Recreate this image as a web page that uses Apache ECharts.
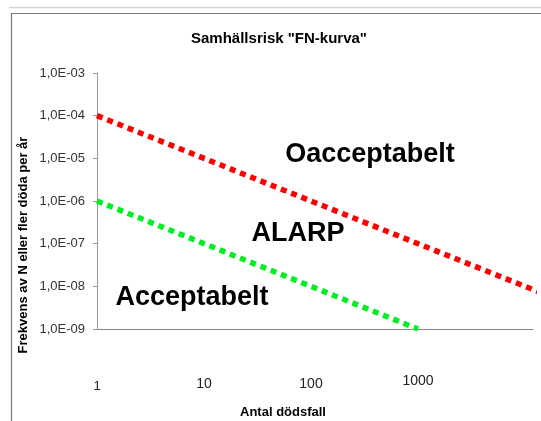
<!DOCTYPE html>
<html>
<head>
<meta charset="utf-8">
<script src="https://cdn.jsdelivr.net/npm/echarts@6/dist/echarts.min.js"></script>
<style>
html,body{margin:0;padding:0;background:#fff;}
#chart{width:541px;height:421px;}
</style>
</head>
<body>
<div id="chart"></div>
<script>
// ---- data ----
var titleText = 'Samhällsrisk "FN-kurva"';
var xAxisTitle = 'Antal dödsfall';
var yAxisTitle = 'Frekvens av N eller fler döda per år';
var xTickValues = [1, 10, 100, 1000];
var xTickLabels = ['1', '10', '100', '1000'];
var yTickValues = [1e-9, 1e-8, 1e-7, 1e-6, 1e-5, 1e-4, 1e-3];
var yTickLabels = ['1,0E-09', '1,0E-08', '1,0E-07', '1,0E-06', '1,0E-05', '1,0E-04', '1,0E-03'];
// upper limit (red) and lower limit (green) criteria lines
var upperN = [1, 10000, 20000];
var upperF = [1e-4, 1e-8, 5e-9];
var lowerN = [1, 1000];
var lowerF = [1e-6, 1e-9];
// region labels
var regionNames = ['Oacceptabelt', 'ALARP', 'Acceptabelt'];
var regionN = [356, 75.6, 7.73];
var regionF = [1.2e-5, 1.69e-7, 5.6e-9];

function pairs(xs, ys) { return xs.map(function (x, i) { return [x, ys[i]]; }); }

var chart = echarts.init(document.getElementById('chart'), null, {renderer: 'canvas'});
var FONT = '"Liberation Sans", Arial, sans-serif';

var option = {
  backgroundColor: '#ffffff',
  animation: false,
  title: {
    text: titleText,
    left: 274, top: 26, textAlign: 'center',
    textStyle: {fontFamily: FONT, fontSize: 15, fontWeight: 'bold', color: '#000'}
  },
  grid: {left: 97, top: 73, right: 8, bottom: 92, containLabel: false},
  xAxis: {
    type: 'log', logBase: 10, min: 1, max: 11885,
    axisLine: {show: true, lineStyle: {color: '#888', width: 1}},
    axisTick: {show: false},
    minorTick: {show: false},
    splitLine: {show: false},
    axisLabel: {
      margin: 45,
      showMaxLabel: true,
      fontFamily: FONT, fontSize: 14, color: '#222',
      verticalAlign: 'top',
      formatter: function (v) {
        for (var i = 0; i < xTickValues.length; i++) {
          if (Math.abs(v - xTickValues[i]) < 1e-6 * xTickValues[i]) return '{l' + i + '|' + xTickLabels[i] + '}';
        }
        return '';
      },
      rich: {
        l0: {padding: [6, 0, 0, 0], fontSize: 13, fontFamily: FONT, color: '#222'},
        l1: {padding: [3, 0, 0, 0], fontSize: 14, fontFamily: FONT, color: '#222'},
        l2: {padding: [3, 0, 0, 0], fontSize: 14, fontFamily: FONT, color: '#222'},
        l3: {padding: [0, 0, 0, 0], fontSize: 14, fontFamily: FONT, color: '#222'}
      }
    }
  },
  yAxis: {
    type: 'log', logBase: 10, min: 1e-9, max: 1e-3,
    axisLine: {show: true, lineStyle: {color: '#999', width: 1}},
    axisTick: {show: true, inside: false, length: 4, lineStyle: {color: '#999'}},
    minorTick: {show: false},
    splitLine: {show: false},
    axisLabel: {
      margin: 12,
      fontFamily: FONT, fontSize: 13, color: '#333',
      formatter: function (v) {
        for (var i = 0; i < yTickValues.length; i++) {
          if (Math.abs(Math.log10(v) - Math.log10(yTickValues[i])) < 1e-6) return yTickLabels[i];
        }
        return '';
      }
    }
  },
  series: [
    {
      type: 'line', name: 'upper', data: pairs(upperN, upperF),
      showSymbol: false, clip: false, silent: true,
      lineStyle: {color: '#ff0000', width: 5.5, type: [6, 5], cap: 'butt'}
    },
    {
      type: 'line', name: 'lower', data: pairs(lowerN, lowerF),
      showSymbol: false, clip: false, silent: true,
      lineStyle: {color: '#00ee22', width: 5.5, type: [6, 5], cap: 'butt'}
    },
    {
      type: 'scatter', name: 'labels', symbolSize: 0, silent: true,
      itemStyle: {opacity: 1},
      data: regionNames.map(function (n, i) { return {name: n, value: [regionN[i], regionF[i]]}; }),
      label: {
        show: true, position: 'inside', opacity: 1,
        formatter: function (p) { return p.name; },
        fontFamily: FONT, fontSize: 27, fontWeight: 'bold', color: '#000'
      }
    }
  ],
  graphic: [
    {type: 'line', shape: {x1: 9, y1: 7.5, x2: 541, y2: 7.5}, style: {stroke: '#d4d4d4', lineWidth: 1.5}, silent: true},
    {type: 'polyline', shape: {points: [[11.5, 421], [11.5, 13.5], [541, 13.5]]}, style: {stroke: '#7a7a7a', lineWidth: 1.2, fill: null}, silent: true},
    {type: 'text', x: 283, y: 412, style: {text: xAxisTitle, align: 'center', verticalAlign: 'middle', font: 'bold 13px ' + FONT, fill: '#000'}, silent: true},
    {type: 'text', x: 23, y: 245, rotation: Math.PI / 2, style: {text: yAxisTitle, align: 'center', verticalAlign: 'middle', font: 'bold 13px ' + FONT, fill: '#000'}, silent: true}
  ]
};
chart.setOption(option);
</script>
</body>
</html>
